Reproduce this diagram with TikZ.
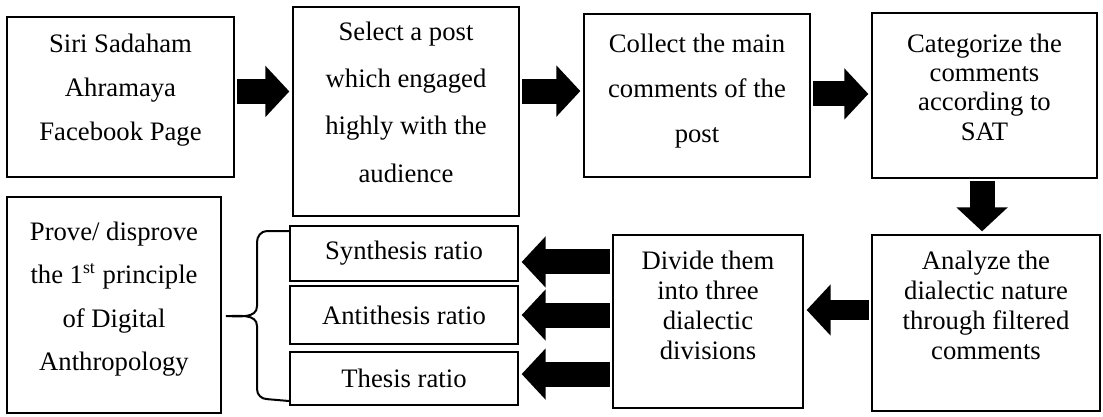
\documentclass[tikz,border=0pt]{standalone}
\usepackage{fontspec}
\setmainfont{Liberation Serif}
\usetikzlibrary{arrows.meta}
\tikzstyle{block} = [draw, line width=0.9pt, rectangle, align=center, inner ysep=0pt]
\tikzstyle{ratio} = [draw, line width=0.9pt, rectangle, minimum width=102.6pt]
\tikzstyle{fat} = [line width=11.25pt, -{Triangle[width=22.5pt,length=10.8pt]},
    shorten <=1pt, shorten >=1.2pt]

\begin{document}
\begin{tikzpicture}[x=0.45pt, y=-0.45pt, font=\fontsize{12}{14}\selectfont]
    \useasboundingbox (0,0) rectangle (1103,416);
    % Top row of blocks
    \node [block, minimum width=102.15pt, text height=55.35pt, text depth=16.65pt,
        font=\fontsize{12}{19.8}\selectfont] (page) at (120.5,97)
        {Siri Sadaham\\Ahramaya\\Facebook Page};
    \node [block, minimum width=101.7pt, text height=78.75pt, text depth=15.3pt,
        font=\fontsize{12}{21.3}\selectfont] (post) at (406,111.5)
        {Select a post\\which engaged\\highly with the\\audience};
    \node [block, minimum width=101.7pt, text height=57.7pt, text depth=15.65pt,
        font=\fontsize{12}{20.3}\selectfont] (collect) at (697,95.5)
        {Collect the main\\comments of the\\post};
    \node [block, minimum width=101.25pt, text height=57.15pt, text depth=17.1pt,
        font=\fontsize{12}{13.2}\selectfont] (categ) at (984.5,95.5)
        {Categorize the\\comments\\according to\\SAT};
    % Bottom row, right to left
    \node [block, minimum width=102.6pt, text height=56.1pt, text depth=23.1pt,
        font=\fontsize{12}{13.6}\selectfont] (analyze) at (986,323)
        {Analyze the\\dialectic nature\\through filtered\\comments};
    \node [block, minimum width=85.5pt, text height=56.1pt, text depth=21.75pt,
        font=\fontsize{12}{13.6}\selectfont] (divide) at (708,321.5)
        {Divide them\\into three\\dialectic\\divisions};
    \node [ratio, minimum height=24.75pt] (synth) at (404,253.5) {Synthesis ratio};
    \node [ratio, minimum height=26.1pt] (anti) at (404,315) {Antithesis ratio};
    \node [ratio, minimum height=23.85pt] (thesis) at (404,378.5) {Thesis ratio};
    \node [block, minimum width=96.3pt, text height=78.15pt, text depth=19.05pt,
        font=\fontsize{12}{19.6}\selectfont] (prove) at (114,305)
        {Prove/ disprove\\the 1\textsuperscript{st} principle\\of Digital\\Anthropology};

    % Block arrows between the steps
    \draw [fat] ([yshift=2.5pt]page.east) -- ([yshift=2.5pt]page.east -| post.west);
    \draw [fat] ([yshift=9.2pt]post.east) -- ([yshift=9.2pt]post.east -| collect.west);
    \draw [fat] ([yshift=0.7pt]collect.east) -- ([yshift=0.7pt]collect.east -| categ.west);
    \draw [fat] ([xshift=-1.1pt]categ.south) -- ([xshift=-1.1pt]categ.south |- analyze.north);
    \draw [fat, line width=9pt] ([yshift=5.85pt]analyze.west) -- ([yshift=5.85pt]analyze.west -| divide.east);
    \draw [fat] ([yshift=-3.8pt]synth.east -| divide.west) -- ([yshift=-3.8pt]synth.east);
    \draw [fat] (anti.east -| divide.west) -- (anti.east);
    \draw [fat] ([yshift=2pt]thesis.east -| divide.west) -- ([yshift=2pt]thesis.east);

    % The brace joining the three ratios
    \draw [line width=0.9pt] ([yshift=-2.7pt]synth.north west) -- ++(-9.9pt,0)
        to[out=180,in=90] ++(-4.5pt,-5pt) -- ++(0,-28.8pt)
        to[out=-90,in=0] ++(-14pt,-4.5pt)
        to[out=0,in=90] ++(14pt,-4.5pt) -- ++(0,-28.35pt)
        to[out=-90,in=180] ++(4.5pt,-4.5pt) -- ([yshift=2.25pt]thesis.south west);
\end{tikzpicture}
\end{document}
